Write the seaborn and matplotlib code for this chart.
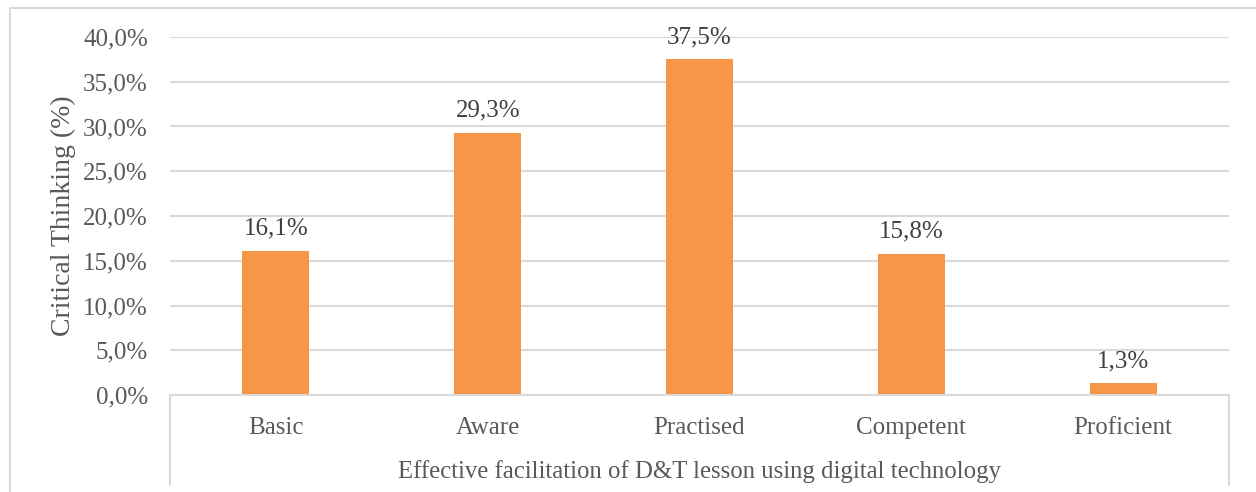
import matplotlib
matplotlib.use("Agg")
import matplotlib.pyplot as plt
from matplotlib.ticker import FuncFormatter, MultipleLocator
from matplotlib.lines import Line2D
import seaborn as sns
import pandas as pd

categories = ["Basic", "Aware", "Practised", "Competent", "Proficient"]
values = [16.1, 29.3, 37.5, 15.8, 1.3]
y_label = "Critical Thinking (%)"
x_label = "Effective facilitation of D&T lesson using digital technology"

sns.set_theme(style="white")
plt.rcParams["font.family"] = ["Liberation Serif", "DejaVu Serif"]

df = pd.DataFrame({"cat": categories, "val": values})

fig = plt.figure(figsize=(12.56, 4.92), dpi=100)
ax = fig.add_axes([170/1256, 1-395/492, (1229-170)/1256, (395-37)/492])

sns.barplot(data=df, x="cat", y="val", color="#F79646", saturation=1,
            width=0.316, ax=ax, edgecolor="none")

ax.set_ylim(0, 40)
ax.set_xlim(-0.5, 4.5)
ax.yaxis.set_major_locator(MultipleLocator(5))
ax.yaxis.set_major_formatter(FuncFormatter(lambda v, p: f"{v:.1f}%".replace(".", ",")))
ax.grid(axis="y", color="#D9D9D9", linewidth=1.5)
ax.set_axisbelow(True)
for s in ["top", "right", "left"]:
    ax.spines[s].set_visible(False)
ax.spines["bottom"].set_color("#D9D9D9")
ax.spines["bottom"].set_linewidth(1.5)

ax.tick_params(axis="y", labelsize=18, labelcolor="#595959", length=0, pad=16)
ax.tick_params(axis="x", labelsize=18, labelcolor="#595959", length=0, pad=16)
ax.set_xlabel(x_label, fontsize=17.8, color="#595959", labelpad=15)
ax.set_ylabel(y_label, fontsize=20, color="#595959", labelpad=5)

labels = [f"{v:.1f}%".replace(".", ",") for v in values]
ax.bar_label(ax.containers[0], labels=labels, fontsize=18, color="#404040", padding=8)

# axis box below plot (multi-level category frame)
h = (485-395)/358
for xx in (0, 1):
    ax.add_line(Line2D([xx, xx], [0, -h], transform=ax.transAxes, color="#D9D9D9",
                       linewidth=1.5, clip_on=False))

# outer chart border (partially cropped)
fig.add_artist(Line2D([10/1256, 10/1256, 1.0], [0.0, 1-7.5/492, 1-7.5/492],
                      transform=fig.transFigure, color="#D9D9D9", linewidth=1.5))

fig.savefig("out.png", dpi=100, facecolor="white")
